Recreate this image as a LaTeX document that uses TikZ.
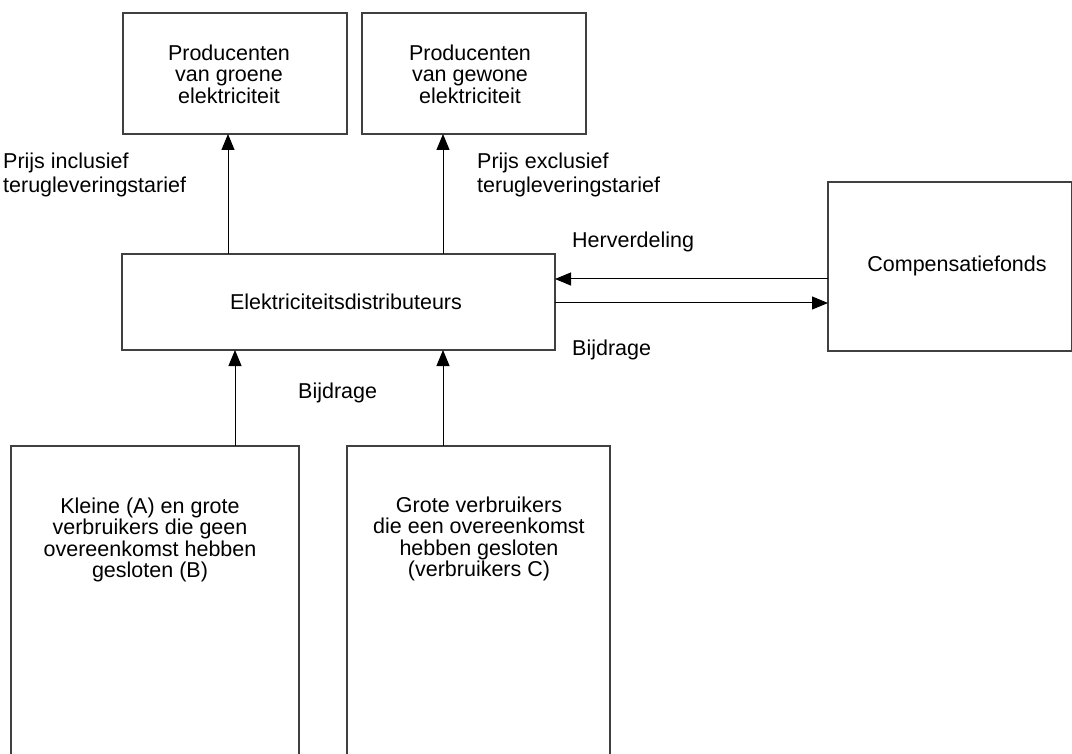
\documentclass[tikz,border=0pt]{standalone}
\usepackage{fontspec}
\setmainfont{Liberation Sans}
\usetikzlibrary{arrows.meta}
\begin{document}
\begin{tikzpicture}[x=1pt,y=-1pt,
  box/.style={draw=black!75, line width=1.2pt, inner sep=0pt, outer sep=0pt},
  arr/.style={-{Triangle[length=16pt,width=13pt]}, line width=1pt, black},
  txt/.style={font=\fontsize{21.5}{21.5}\selectfont, align=center, inner sep=0pt},
  lbl/.style={font=\fontsize{21.5}{24}\selectfont, align=left, inner sep=0pt, anchor=west}]
\useasboundingbox (0,0) rectangle (1072,754);
\clip (0,0) rectangle (1072,754);
% boxes
\node[box, anchor=north west, minimum width=224pt, minimum height=121pt] (g1) at (123,13) {};
\node[box, anchor=north west, minimum width=224pt, minimum height=121pt] (g2) at (362,13) {};
\node[box, anchor=north west, minimum width=433pt, minimum height=96pt] (dist) at (122,254) {};
\node[box, anchor=north west, minimum width=243.5pt, minimum height=169pt] (comp) at (828,182) {};
\node[box, anchor=north west, minimum width=288pt, minimum height=360pt] (bl) at (11,446) {};
\node[box, anchor=north west, minimum width=263pt, minimum height=360pt] (bm) at (347,446) {};
% texts in boxes
\node[txt] (t1) at (229,74) {Producenten\\van groene\\elektriciteit};
\node[txt] (t2) at (470,74) {Producenten\\van gewone\\elektriciteit};
\node[txt] (t3) at (346,302) {Elektriciteitsdistributeurs};
\node[txt] (t4) at (957,266) {Compensatiefonds};
\node[txt] (t5) at (150,540) {Kleine (A) en grote\\verbruikers die geen\\overeenkomst hebben\\gesloten (B)};
\node[txt] (t6) at (479,539) {Grote verbruikers\\die een overeenkomst\\hebben gesloten\\(verbruikers C)};
% labels
\node[lbl] (l1) at (3,175) {Prijs inclusief\\terugleveringstarief};
\node[lbl] (l2) at (477,175) {Prijs exclusief\\terugleveringstarief};
\node[lbl] (l3) at (572,242) {Herverdeling};
\node[lbl] (l4) at (572,350) {Bijdrage};
\node[lbl] (l5) at (298,393) {Bijdrage};
% connector columns
\coordinate (c1) at (228,0);
\coordinate (c2) at (443,0);
\coordinate (c3) at (235,0);
\coordinate (c4) at (443,0);
\coordinate (r1) at (0,279);
\coordinate (r2) at (0,303);
% arrows
\draw[arr] (dist.north -| c1) -- (g1.south -| c1);
\draw[arr] (dist.north -| c2) -- (g2.south -| c2);
\draw[arr] (comp.west |- r1) -- (dist.east |- r1);
\draw[arr] (dist.east |- r2) -- (comp.west |- r2);
\draw[arr] (bl.north -| c3) -- (dist.south -| c3);
\draw[arr] (bm.north -| c4) -- (dist.south -| c4);
\end{tikzpicture}
\end{document}
